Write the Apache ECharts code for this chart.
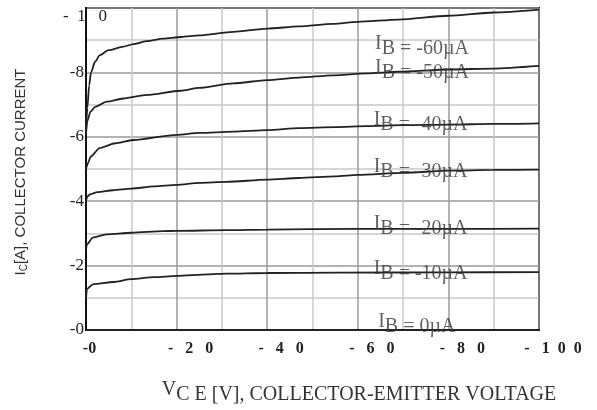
<!DOCTYPE html>
<html><head><meta charset="utf-8">
<script src="https://cdn.jsdelivr.net/npm/echarts@6/dist/echarts.min.js"></script>
<style>html,body{margin:0;padding:0;background:#fff}#c{width:597px;height:410px}</style>
</head><body><div id="c"></div>
<script>
// ---- data (V_CE in volts, I_C in amperes; both negative for a PNP device) ----
const vce60 = [0, -0.3, -0.7, -1.1, -2, -3, -5, -8, -10.5, -13.5, -17, -21, -25, -32.5, -40, -47, -54.5, -60, -69, -80, -90, -100];
const ic60  = [-6.2, -6.9, -7.6, -8.0, -8.33, -8.53, -8.69, -8.79, -8.88, -8.97, -9.05, -9.1, -9.15, -9.26, -9.36, -9.43, -9.51, -9.57, -9.64, -9.76, -9.86, -9.95];

const vce50 = [0, -0.3, -1, -2, -4.6, -8.2, -13.5, -20.8, -25, -32.5, -40, -47, -54.5, -62, -69, -80, -90, -100];
const ic50  = [-6.1, -6.5, -6.78, -6.93, -7.09, -7.19, -7.3, -7.43, -7.52, -7.66, -7.76, -7.84, -7.91, -7.97, -8.02, -8.09, -8.12, -8.2];

const vce40 = [0, -0.5, -1, -3, -6.5, -10.4, -20, -25, -32.5, -40, -47, -55, -62, -70, -80, -90, -100];
const ic40  = [-5.0, -5.2, -5.38, -5.65, -5.8, -5.9, -6.06, -6.12, -6.16, -6.21, -6.27, -6.3, -6.33, -6.36, -6.38, -6.4, -6.42];

const vce30 = [0, -0.3, -1, -2.5, -6, -10, -15, -20, -25, -31, -40, -47, -55, -60, -70, -80, -90, -100];
const ic30  = [-4.0, -4.15, -4.22, -4.28, -4.34, -4.39, -4.46, -4.51, -4.57, -4.6, -4.67, -4.72, -4.77, -4.82, -4.88, -4.95, -4.97, -4.98];

const vce20 = [0, -0.2, -1.5, -4.5, -10, -17, -20, -31, -40, -60, -80, -100];
const ic20  = [-2.5, -2.66, -2.87, -2.97, -3.02, -3.07, -3.08, -3.1, -3.12, -3.14, -3.14, -3.15];

const vce10 = [0, -0.2, -1.5, -6, -10, -15, -20, -27, -31, -40, -56, -80, -100];
const ic10  = [-0.96, -1.27, -1.42, -1.49, -1.58, -1.64, -1.68, -1.73, -1.75, -1.77, -1.78, -1.79, -1.8];

const vce0 = [0, -100];
const ic0  = [0, 0];

const curveNames = ['-60µA', '-50µA', '-40µA', '-30µA', '-20µA', '-10µA', '0µA'];

const xTickValues = [0, -20, -40, -60, -80, -100];
const xTickLabels = ['-0', '-\u2002 2\u2002 0', '-\u2002 4\u2002 0', '-\u2002 6\u2002 0', '-\u2002 8\u2002 0', '-\u2002 1\u20020\u20020'];
const yTickValues = [0, -2, -4, -6, -8, -10];
const yTickLabels = ['-0', '-2', '-4', '-6', '-8', '-  1   0'];

// label anchors (data space) for the I_B annotations
const labelAnchorV  = [-63.8, -63.8, -63.5, -63.5, -63.5, -63.5, -64.5];
const labelAnchorIc = [-8.73, -7.99, -6.37, -4.9, -3.15, -1.76, -0.11];

// ---- build ----
const curves = [[vce60, ic60], [vce50, ic50], [vce40, ic40], [vce30, ic30], [vce20, ic20], [vce10, ic10], [vce0, ic0]];
const series = curves.map((c, i) => ({
  type: 'line',
  name: curveNames[i],
  data: c[0].map((v, j) => [v, c[1][j]]),
  showSymbol: false,
  smooth: 0.25,
  smoothMonotone: 'x',
  lineStyle: { color: '#222', width: 1.8 },
  silent: true,
  z: 3
}));
series.push({
  type: 'scatter',
  name: 'labels',
  symbolSize: 0,
  data: labelAnchorV.map((v, i) => [v, labelAnchorIc[i], curveNames[i]]),
  label: {
    show: true,
    position: 'right',
    distance: 0,
    offset: [0, -5],
    formatter: p => '{i|I}{b|B = ' + p.data[2] + '}',
    rich: {
      i: { fontFamily: 'Liberation Serif', fontSize: 20, color: '#3a3a3a', lineHeight: 20, verticalAlign: 'top' },
      b: { fontFamily: 'Liberation Serif', fontSize: 20, color: '#3a3a3a', lineHeight: 20, padding: [10, 0, 0, 0] }
    }
  },
  z: 5,
  silent: true
});

const chart = echarts.init(document.getElementById('c'), null, { renderer: 'canvas' });
chart.setOption({
  animation: false,
  backgroundColor: '#fff',
  grid: { left: 86, top: 8, width: 453, height: 323, show: true, borderColor: '#111', borderWidth: 2 },
  xAxis: {
    type: 'value', min: -100, max: 0, interval: 10, inverse: true,
    axisLine: { show: true, lineStyle: { color: '#111', width: 2 } },
    axisTick: { show: false },
    splitLine: { show: true, lineStyle: { color: ['#9a9a9a', '#c8c8c8'], width: 1.5 } },
    axisLabel: {
      margin: 11,
      verticalAlign: 'top',
      formatter: v => {
        const k = xTickValues.indexOf(v);
        if (k < 0) return '';
        return k === 0 ? '{z|' + xTickLabels[k] + '}' : '{m|' + xTickLabels[k] + '}';
      },
      rich: {
        z: { fontFamily: 'Liberation Serif', fontWeight: 'bold', fontSize: 16, color: '#222', padding: [0, 0, 0, 7] },
        m: { fontFamily: 'Liberation Serif', fontWeight: 'bold', fontSize: 16, color: '#222', padding: [0, 0, 0, 28] }
      }
    },
    name: '{v|V}{s|C E [V], COLLECTOR-EMITTER VOLTAGE}',
    nameLocation: 'middle',
    nameGap: 50,
    nameTextStyle: {
      padding: [0, 0, 0, 93],
      rich: {
        v: { fontFamily: 'Liberation Serif', fontSize: 20, color: '#333', lineHeight: 20, verticalAlign: 'top' },
        s: { fontFamily: 'Liberation Serif', fontSize: 20, color: '#333', lineHeight: 20, padding: [10, 0, 0, 0] }
      }
    }
  },
  yAxis: {
    type: 'value', min: -10, max: 0, interval: 1, inverse: true,
    axisLine: { show: true, lineStyle: { color: '#111', width: 2 } },
    axisTick: { show: false },
    splitLine: { show: true, lineStyle: { color: ['#9a9a9a', '#c8c8c8'], width: 1.5 } },
    axisLabel: {
      margin: 2,
      padding: [15, 0, 0, 0],
      fontFamily: 'Liberation Serif', fontSize: 17, color: '#222',
      formatter: v => {
        const k = yTickValues.indexOf(v);
        if (k < 0 || v === -10) return '';
        return yTickLabels[k];
      }
    },
    name: '{a|I}{s|C}{a|[A], COLLECTOR CURRENT}',
    nameLocation: 'middle',
    nameGap: 57,
    nameTextStyle: {
      padding: [0, 6, 0, 0],
      rich: {
        a: { fontFamily: 'Liberation Sans', fontSize: 15, color: '#333' },
        s: { fontFamily: 'Liberation Sans', fontSize: 10, color: '#333', padding: [7, 0, 0, 0] }
      }
    }
  },
  series: series
});

// top tick label straddles the axis in the reference
const p = chart.convertToPixel({ xAxisIndex: 0, yAxisIndex: 0 }, [0, yTickValues[5]]);
chart.setOption({
  graphic: [{
    type: 'text', left: p[0] - 23, top: p[1],
    style: { text: yTickLabels[5], fontFamily: 'Liberation Serif', fontSize: 17, fill: '#222' },
    z: 10
  }]
});
</script></body></html>
